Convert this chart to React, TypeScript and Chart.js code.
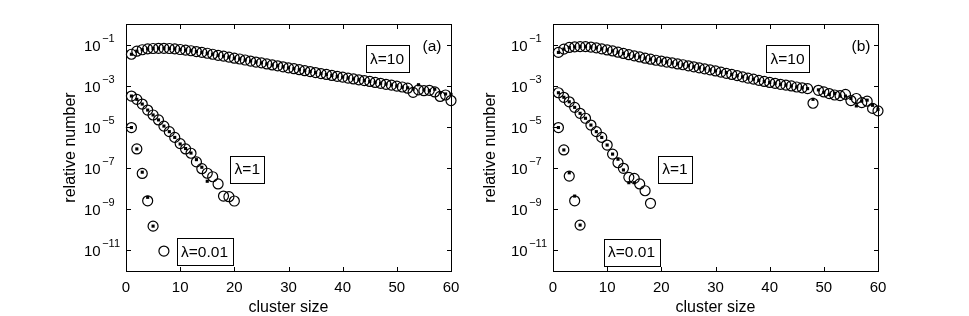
import React, { useEffect, useRef } from "react";
import { Chart, registerables } from "chart.js";

Chart.register(...registerables);

const FONT = '"Liberation Sans", Arial, Helvetica, sans-serif';

// ---- axes ----
const xTickValues = [0, 10, 20, 30, 40, 50, 60];
const yTickExponents = [-1, -3, -5, -7, -9, -11];
const xAxisTitle = "cluster size";
const yAxisTitle = "relative number";

// ---- cluster sizes ----
const sizes60 = [
  1, 2, 3, 4, 5, 6, 7, 8, 9, 10, 11, 12, 13, 14, 15, 16, 17, 18, 19, 20,
  21, 22, 23, 24, 25, 26, 27, 28, 29, 30, 31, 32, 33, 34, 35, 36, 37, 38, 39, 40,
  41, 42, 43, 44, 45, 46, 47, 48, 49, 50, 51, 52, 53, 54, 55, 56, 57, 58, 59, 60,
];
const sizes20 = [1, 2, 3, 4, 5, 6, 7, 8, 9, 10, 11, 12, 13, 14, 15, 16, 17, 18, 19, 20];
const sizes18 = [1, 2, 3, 4, 5, 6, 7, 8, 9, 10, 11, 12, 13, 14, 15, 16, 17, 18];
const sizes15 = [1, 2, 3, 4, 5, 6, 7, 8, 9, 10, 11, 12, 13, 14, 15];
const sizesSmallA = [1, 2, 3, 4, 5, 7];
const sizes5 = [1, 2, 3, 4, 5];

// ---- panel (a): log10(relative number) ----
const aL10Circles = [
  -1.47, -1.32, -1.25, -1.21, -1.19, -1.18, -1.18, -1.19, -1.21, -1.24,
  -1.27, -1.30, -1.34, -1.38, -1.42, -1.47, -1.52, -1.56, -1.61, -1.66,
  -1.70, -1.75, -1.80, -1.85, -1.89, -1.94, -1.99, -2.03, -2.08, -2.13,
  -2.17, -2.22, -2.27, -2.31, -2.36, -2.41, -2.45, -2.50, -2.54, -2.58,
  -2.63, -2.67, -2.71, -2.75, -2.79, -2.84, -2.88, -2.93, -2.97, -3.02,
  -3.06, -3.12, -3.32, -3.20, -3.24, -3.22, -3.30, -3.52, -3.45, -3.72,
];
const aL10Dots = [
  -1.47, -1.32, -1.25, -1.21, -1.19, -1.18, -1.18, -1.19, -1.21, -1.24,
  -1.27, -1.30, -1.34, -1.38, -1.42, -1.47, -1.52, -1.56, -1.61, -1.66,
  -1.70, -1.75, -1.80, -1.85, -1.89, -1.94, -1.99, -2.03, -2.08, -2.13,
  -2.17, -2.22, -2.27, -2.31, -2.36, -2.41, -2.45, -2.50, -2.54, -2.58,
  -2.62, -2.67, -2.71, -2.74, -2.79, -2.83, -2.88, -2.92, -2.96, -3.01,
  -3.07, -3.10, -3.16, -2.95, -3.20, -3.23, -3.17, -3.33, -3.40, -3.42,
];
const aL1Circles = [
  -3.50, -3.66, -3.89, -4.18, -4.42, -4.66, -4.96, -5.23, -5.51, -5.81,
  -6.07, -6.28, -6.70, -7.03, -7.25, -7.42, -7.77, -8.36, -8.39, -8.60,
];
const aL1Dots = [
  -3.50, -3.66, -3.89, -4.18, -4.42, -4.66, -4.96, -5.23, -5.51, -5.83,
  -6.05, -6.27, -6.59, -6.96, -7.64,
];
const aL001Circles = [-5.03, -6.07, -7.26, -8.59, -9.82, -11.03];
const aL001Dots = [-5.03, -6.07, -7.20, -8.42, -9.82];

// ---- panel (b): log10(relative number) ----
const bL10Circles = [
  -1.38, -1.22, -1.14, -1.11, -1.10, -1.10, -1.12, -1.16, -1.21, -1.26,
  -1.31, -1.37, -1.43, -1.49, -1.55, -1.60, -1.66, -1.71, -1.76, -1.80,
  -1.85, -1.89, -1.94, -1.98, -2.03, -2.08, -2.13, -2.18, -2.23, -2.28,
  -2.34, -2.40, -2.45, -2.51, -2.57, -2.63, -2.68, -2.74, -2.79, -2.84,
  -2.88, -2.93, -2.97, -3.01, -3.06, -3.10, -3.14, -3.85, -3.22, -3.30,
  -3.38, -3.45, -3.48, -3.42, -3.72, -3.62, -3.82, -3.75, -4.10, -4.22,
];
const bL10Dots = [
  -1.38, -1.22, -1.14, -1.11, -1.10, -1.10, -1.12, -1.16, -1.21, -1.26,
  -1.31, -1.37, -1.43, -1.49, -1.55, -1.60, -1.66, -1.71, -1.76, -1.80,
  -1.85, -1.89, -1.94, -1.98, -2.03, -2.08, -2.13, -2.18, -2.23, -2.28,
  -2.34, -2.36, -2.45, -2.51, -2.57, -2.63, -2.68, -2.74, -2.79, -2.84,
  -2.88, -2.93, -2.97, -3.01, -3.06, -3.10, -3.14, -3.66, -3.20, -3.32,
  -3.42, -3.37, -3.50, -3.50, -3.62, -3.98, -3.75, -3.70, -3.95, -4.15,
];
const bL1Circles = [
  -3.34, -3.56, -3.78, -4.05, -4.34, -4.58, -4.91, -5.23, -5.51, -5.88,
  -6.32, -6.74, -7.01, -7.45, -7.50, -7.77, -8.10, -8.71,
];
const bL1Dots = [
  -3.34, -3.56, -3.78, -4.05, -4.34, -4.58, -4.91, -5.23, -5.51, -5.88,
  -6.32, -6.57, -7.09, -7.71, -7.71,
];
const bL001Circles = [-5.03, -6.12, -7.39, -8.59, -9.77];
const bL001Dots = [-5.03, -6.12, -7.23, -8.36, -9.77];

// ---- annotation labels ----
const lambdaLabels = ["λ=10", "λ=1", "λ=0.01"];

type Ann = { text: string; s: number; e: number };

type PanelCfg = {
  key: string;
  letter: string;
  left: number;
  width: number;
  pad: { left: number; top: number; right: number; bottom: number };
  titleX: number;
  letterInset: number;
  circles: { sizes: number[]; logs: number[] }[];
  dots: { sizes: number[]; logs: number[] }[];
  anns: Ann[];
};

const panels: PanelCfg[] = [
  {
    key: "a",
    letter: "(a)",
    left: 0,
    width: 470,
    pad: { left: 126, top: 24, right: 19, bottom: 45 },
    titleX: 69,
    letterInset: 19,
    circles: [
      { sizes: sizes60, logs: aL10Circles },
      { sizes: sizes20, logs: aL1Circles },
      { sizes: sizesSmallA, logs: aL001Circles },
    ],
    dots: [
      { sizes: sizes60, logs: aL10Dots },
      { sizes: sizes15, logs: aL1Dots },
      { sizes: sizes5, logs: aL001Dots },
    ],
    anns: [
      { text: lambdaLabels[0], s: 48.2, e: -1.67 },
      { text: lambdaLabels[1], s: 22.4, e: -7.05 },
      { text: lambdaLabels[2], s: 14.5, e: -11.06 },
    ],
  },
  {
    key: "b",
    letter: "(b)",
    left: 470,
    width: 499,
    pad: { left: 83, top: 24, right: 91, bottom: 45 },
    titleX: 19,
    letterInset: 17,
    circles: [
      { sizes: sizes60, logs: bL10Circles },
      { sizes: sizes18, logs: bL1Circles },
      { sizes: sizes5, logs: bL001Circles },
    ],
    dots: [
      { sizes: sizes60, logs: bL10Dots },
      { sizes: sizes15, logs: bL1Dots },
      { sizes: sizes5, logs: bL001Dots },
    ],
    anns: [
      { text: lambdaLabels[0], s: 43.3, e: -1.67 },
      { text: lambdaLabels[1], s: 22.5, e: -7.05 },
      { text: lambdaLabels[2], s: 14.5, e: -11.08 },
    ],
  },
];

const TICK = 4;

function toPoints(sizes: number[], logs: number[]) {
  return sizes.map((s, i) => ({ x: s, y: Math.pow(10, logs[i]) }));
}

function makeDecor(cfg: PanelCfg) {
  return {
    id: "decor-" + cfg.key,
    afterDraw(chart: any) {
      const ctx: CanvasRenderingContext2D = chart.ctx;
      const ca = chart.chartArea;
      const xs = chart.scales.x;
      const ys = chart.scales.y;
      const L = Math.round(ca.left);
      const T = Math.round(ca.top);
      const R = Math.round(ca.right);
      const B = Math.round(ca.bottom);
      ctx.save();
      ctx.strokeStyle = "#000";
      ctx.lineWidth = 1;
      ctx.strokeRect(L + 0.5, T + 0.5, R - L, B - T);
      ctx.beginPath();
      for (const v of xTickValues) {
        const px = Math.round(xs.getPixelForValue(v)) + 0.5;
        ctx.moveTo(px, B);
        ctx.lineTo(px, B - TICK);
        ctx.moveTo(px, T + 1);
        ctx.lineTo(px, T + 1 + TICK);
      }
      for (const e of yTickExponents) {
        const py = Math.round(ys.getPixelForValue(Math.pow(10, e))) + 0.5;
        ctx.moveTo(L + 1, py);
        ctx.lineTo(L + 1 + TICK, py);
        ctx.moveTo(R, py);
        ctx.lineTo(R - TICK, py);
      }
      ctx.stroke();

      ctx.fillStyle = "#000";
      // x tick labels
      ctx.font = `15px ${FONT}`;
      ctx.textAlign = "center";
      ctx.textBaseline = "alphabetic";
      for (const v of xTickValues) {
        ctx.fillText(String(v), xs.getPixelForValue(v), B + 21);
      }
      // y tick labels 10^e
      for (const e of yTickExponents) {
        const py = ys.getPixelForValue(Math.pow(10, e));
        ctx.font = `15px ${FONT}`;
        ctx.textAlign = "left";
        const x0 = L - 42;
        ctx.fillText("10", x0, py + 6);
        const w = ctx.measureText("10").width;
        ctx.font = `11px ${FONT}`;
        ctx.fillText("\u2212" + Math.abs(e), x0 + w + 1.5, py - 3);
      }
      // axis titles
      ctx.font = `16px ${FONT}`;
      ctx.textAlign = "center";
      ctx.fillText(xAxisTitle, (L + R) / 2, 312);
      ctx.save();
      ctx.translate(cfg.titleX + 5.8, (T + B) / 2);
      ctx.rotate(-Math.PI / 2);
      ctx.fillText(yAxisTitle, 0, 0);
      ctx.restore();

      // panel letter
      ctx.font = `15.5px ${FONT}`;
      ctx.textAlign = "center";
      ctx.textBaseline = "middle";
      ctx.fillText(cfg.letter, R - cfg.letterInset, T + 22.5);

      // lambda boxes
      ctx.font = `15.5px ${FONT}`;
      for (const a of cfg.anns) {
        const cx = xs.getPixelForValue(a.s);
        const cy = ys.getPixelForValue(Math.pow(10, a.e));
        const tw = ctx.measureText(a.text).width;
        const bw = Math.round(tw + 9);
        const bh = 27;
        const bx = Math.round(cx - bw / 2) + 0.5;
        const by = Math.round(cy - bh / 2) + 0.5;
        ctx.fillStyle = "#fff";
        ctx.fillRect(bx, by, bw, bh);
        ctx.strokeStyle = "#000";
        ctx.strokeRect(bx, by, bw, bh);
        ctx.fillStyle = "#000";
        ctx.fillText(a.text, cx, cy + 1);
      }
      ctx.restore();
    },
  };
}

function Panel({ cfg }: { cfg: PanelCfg }) {
  const ref = useRef<HTMLCanvasElement>(null);
  useEffect(() => {
    const canvas = ref.current;
    if (!canvas) return;
    const dotSets = cfg.dots.map((d) => ({
      data: toPoints(d.sizes, d.logs),
      showLine: false,
      clip: false as any,
      pointStyle: "rect",
      pointRadius: 2.2,
      pointBorderWidth: 0,
      pointBackgroundColor: "#000",
      pointBorderColor: "#000",
      backgroundColor: "#000",
      borderColor: "#000",
      borderWidth: 0,
    }));
    const circleSets = cfg.circles.map((c) => ({
      data: toPoints(c.sizes, c.logs),
      showLine: false,
      clip: false as any,
      pointStyle: "circle",
      pointRadius: 5,
      pointBorderWidth: 1.2,
      pointBackgroundColor: "rgba(0,0,0,0)",
      pointBorderColor: "#000",
      backgroundColor: "rgba(0,0,0,0)",
      borderColor: "#000",
      borderWidth: 1.2,
    }));
    const chart = new Chart(canvas, {
      type: "scatter",
      data: { datasets: [...dotSets, ...circleSets] as any },
      options: {
        animation: false,
        responsive: false,
        devicePixelRatio: 1,
        events: [],
        layout: { padding: cfg.pad },
        plugins: { legend: { display: false }, tooltip: { enabled: false } },
        scales: {
          x: { type: "linear", min: 0, max: 60, display: false },
          y: { type: "logarithmic", min: 1e-12, max: 1, display: false },
        },
      },
      plugins: [makeDecor(cfg)],
    });
    return () => chart.destroy();
  }, [cfg]);
  return (
    <canvas
      ref={ref}
      width={cfg.width}
      height={316}
      style={{ position: "absolute", left: cfg.left, top: 0, width: cfg.width, height: 316 }}
    />
  );
}

export default function App() {
  return (
    <div
      style={{
        position: "fixed",
        left: 0,
        top: 0,
        width: 969,
        height: 316,
        background: "#fff",
        overflow: "hidden",
      }}
    >
      {panels.map((p) => (
        <Panel key={p.key} cfg={p} />
      ))}
    </div>
  );
}
